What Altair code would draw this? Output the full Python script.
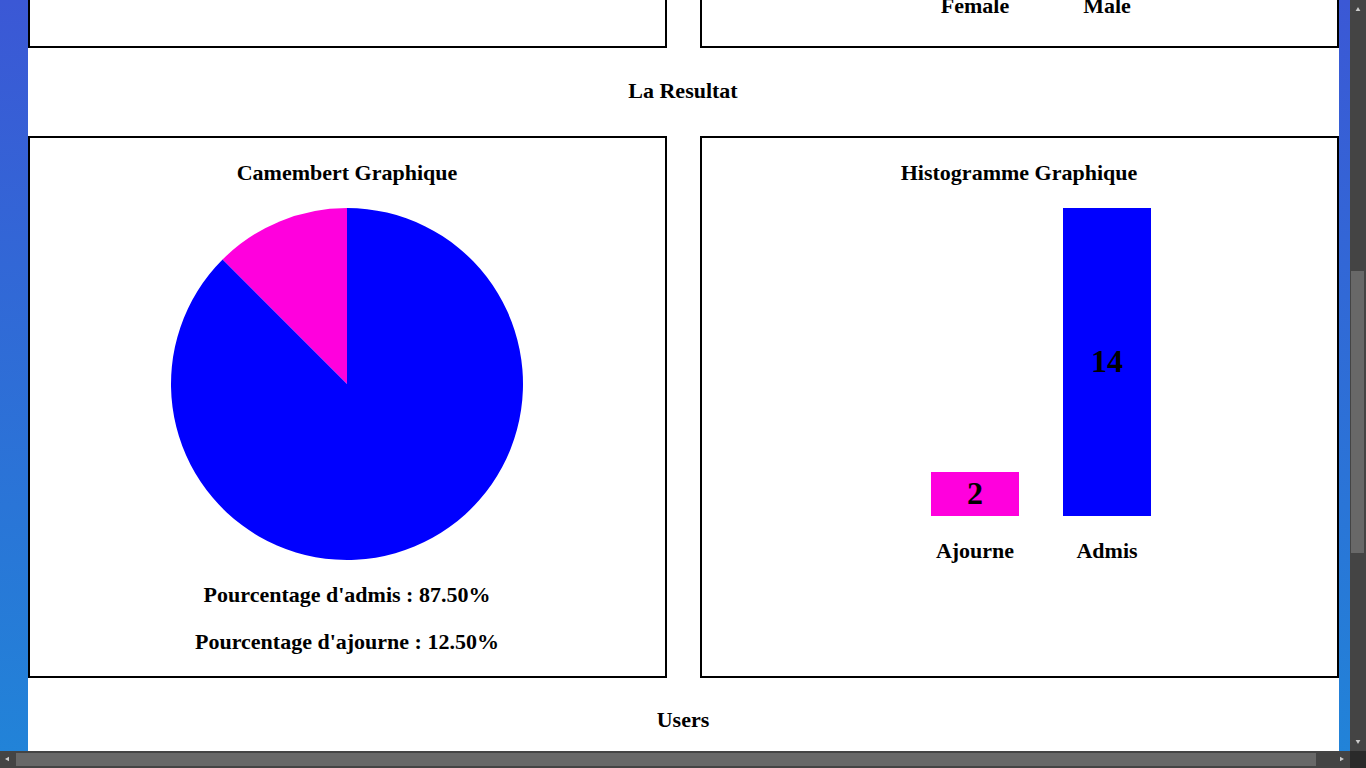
import altair as alt
import pandas as pd

# ---- data ----
categories = ["Ajourne", "Admis"]
counts = [2, 14]
colors = ["#FF00DD", "#0000FF"]
top_labels = ["Female", "Male"]

total = sum(counts)
pct_admis = counts[1] / total * 100
pct_ajourne = counts[0] / total * 100

df = pd.DataFrame({"category": categories, "count": counts})

FONT = "Liberation Serif"
one = alt.Data(values=[{}])


def rect(x, x2, y, y2, **kw):
    return alt.Chart(one).mark_rect(**kw).encode(
        x=alt.value(x), x2=alt.value(x2), y=alt.value(y), y2=alt.value(y2)
    )


def label(text, x, y, size=22, baseline="middle"):
    return alt.Chart(one).mark_text(
        text=text, font=FONT, fontWeight="bold", fontSize=size,
        color="black", align="center", baseline=baseline
    ).encode(x=alt.value(x), y=alt.value(y))


grad = alt.LinearGradient(
    gradient="linear",
    stops=[alt.GradientStop(color="#3B58D5", offset=0),
           alt.GradientStop(color="#2184D8", offset=1)],
    x1=0, x2=0, y1=0, y2=1,
)

layers = [
    rect(0, 28, 0, 768, color=grad),
    rect(1339, 1350, 0, 768, color=grad),
    # boxes
    rect(29, 666, -50, 47, fill="white", stroke="black", strokeWidth=2),
    rect(701, 1338, -50, 47, fill="white", stroke="black", strokeWidth=2),
    rect(29, 666, 137, 677, fill="white", stroke="black", strokeWidth=2),
    rect(701, 1338, 137, 677, fill="white", stroke="black", strokeWidth=2),
    # scrollbars
    rect(1350, 1366, 0, 751, color="#444444"),
    rect(1351, 1364, 271, 553, color="#686868"),
    rect(0, 1350, 751, 768, color="#444444"),
    rect(16, 1316, 753, 766, color="#686868"),
    rect(1350, 1366, 751, 768, color="#2a2a2a"),
]

arrows = [
    ("triangle-up", 1358, 9),
    ("triangle-down", 1358, 742),
    ("triangle-left", 7, 759),
    ("triangle-right", 1342, 759),
]
for shape, ax, ay in arrows:
    layers.append(
        alt.Chart(one).mark_point(shape=shape, filled=True, color="#cccccc",
                                  size=22, opacity=1)
        .encode(x=alt.value(ax), y=alt.value(ay))
    )

# texts
layers += [
    label(top_labels[0], 975, 13, baseline="alphabetic"),
    label(top_labels[1], 1107, 13, baseline="alphabetic"),
    label("La Resultat", 683, 91),
    label("Camembert Graphique", 347, 173),
    label("Histogramme Graphique", 1019, 173),
    label(f"Pourcentage d'admis : {pct_admis:.2f}%", 347, 595),
    label(f"Pourcentage d'ajourne : {pct_ajourne:.2f}%", 347, 642),
    label("Users", 683, 720),
]

color_scale = alt.Scale(domain=categories, range=colors)

pie = alt.Chart(df).mark_arc(outerRadius=176).encode(
    theta=alt.Theta("count:Q", stack=True),
    color=alt.Color("category:N", scale=color_scale, legend=None),
    order=alt.Order("category:N", sort="ascending"),
    x=alt.value(347), y=alt.value(384),
)
layers.append(pie)

xs = alt.X("category:N", sort=categories,
           scale=alt.Scale(range=[931, 1151], paddingInner=1 / 3, paddingOuter=0),
           axis=None)
ys = alt.Scale(domain=[0, 14], range=[516, 208])

bars = alt.Chart(df).mark_bar().encode(
    x=xs,
    y=alt.Y("count:Q", scale=ys, axis=None),
    color=alt.Color("category:N", scale=color_scale, legend=None),
)
bar_text = alt.Chart(df).transform_calculate(mid="datum.count / 2").mark_text(
    font=FONT, fontWeight="bold", fontSize=32, color="black", baseline="middle"
).encode(
    x=xs,
    y=alt.Y("mid:Q", scale=ys, axis=None),
    text="count:Q",
)
cat_text = alt.Chart(df).mark_text(
    font=FONT, fontWeight="bold", fontSize=22, color="black", baseline="middle"
).encode(
    x=xs,
    y=alt.value(551),
    text="category:N",
)
layers += [bars, bar_text, cat_text]

chart = alt.layer(*layers).properties(
    width=1366, height=768, autosize="none", padding=0, background="white"
).configure_view(stroke=None)

chart.save("out.html", embed_options={"renderer": "svg", "actions": False})
